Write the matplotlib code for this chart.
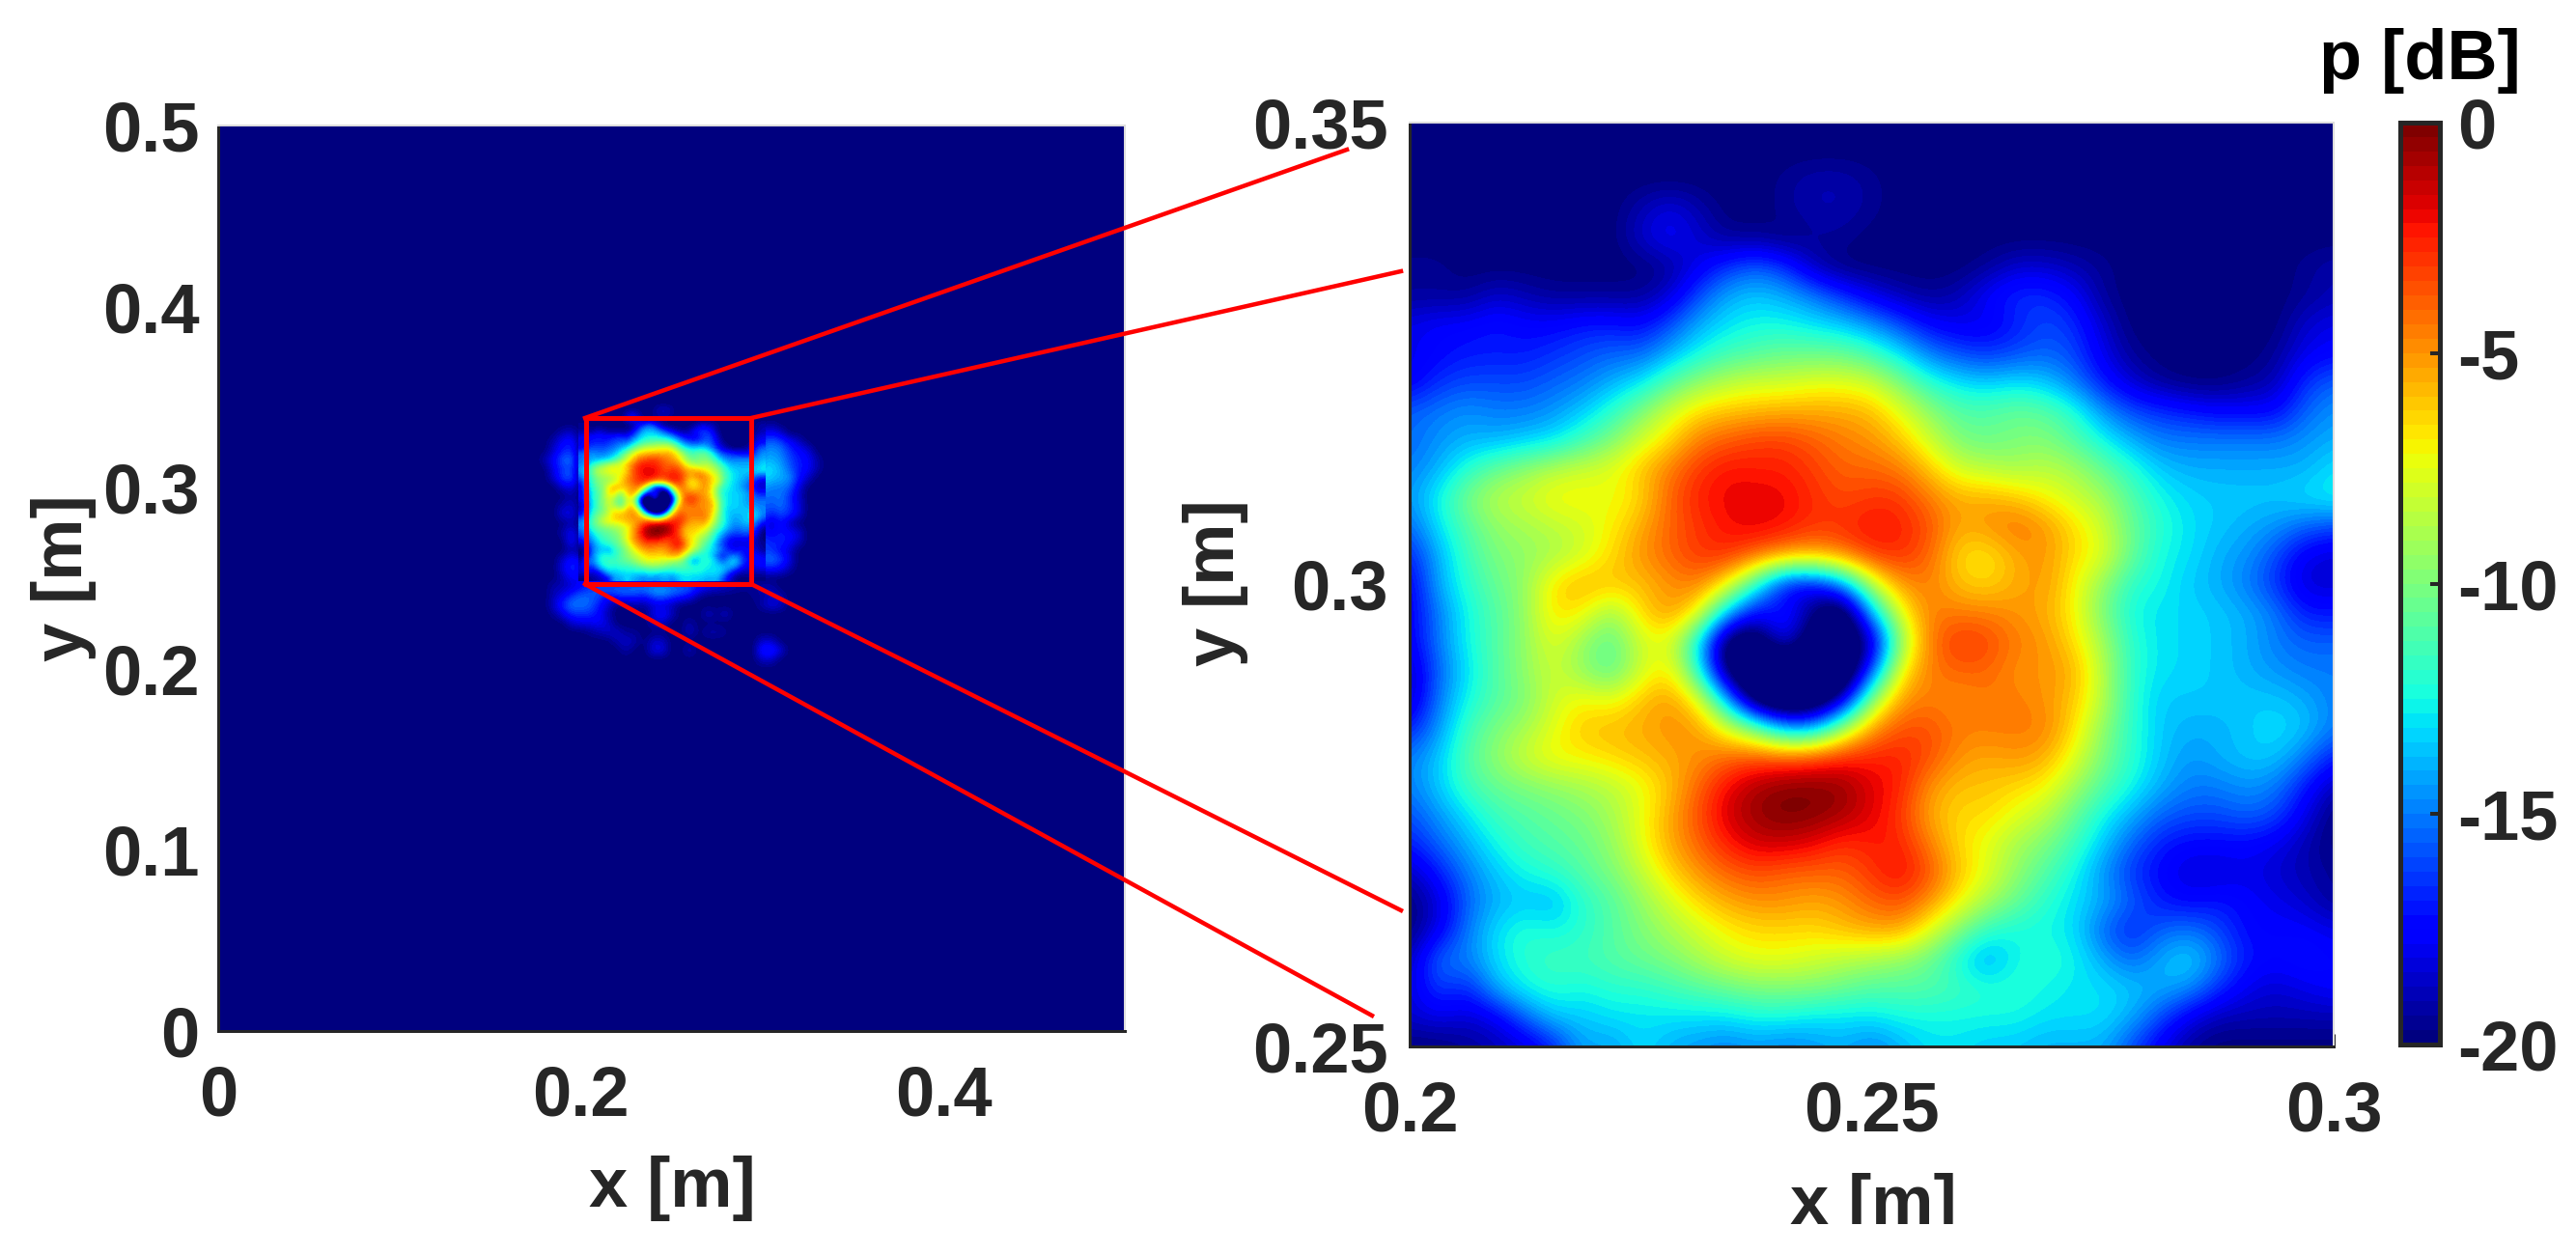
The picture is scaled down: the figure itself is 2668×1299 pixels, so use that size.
import numpy as np
import matplotlib
matplotlib.use("Agg")
import matplotlib.pyplot as plt
from matplotlib.lines import Line2D
from matplotlib.patches import Rectangle
from matplotlib.transforms import Bbox

W, H = 2668, 1299
N = -20

# Sound pressure level [dB] (x 0.2..0.3, y 0.35 at top ..0.25 at bottom)
zoom_db = [
 [N]*33,
 [N]*33,
 [N,N,N,N,N,N,N,N,N,N,N,N,N,-19.5,-19,-19,-19.5,N,N,N,N,N,N,N,N,N,N,N,N,N,N,N,N],
 [N,N,N,N,N,N,N,N,-19,-18,-19,N,N,-19.5,-19,-19,-19.5,N,N,N,N,N,N,N,N,N,N,N,N,N,N,N,N],
 [N,N,N,N,N,N,N,N,-18.5,-17.5,-18.5,-19.5,-19.5,N,-19.5,-19.5,N,N,N,N,N,N,N,N,N,N,N,N,N,N,N,N,N],
 [-19.5,-19.5,N,N,N,N,N,N,N,-19.5,-18,-16.5,-15.5,-16.5,-19,N,N,N,N,N,-19.5,-18.5,-18.5,-19,-19.5,N,N,N,N,N,N,-19.5,-19],
 [-19.5,-19.5,-19.5,-18.5,-19,-19.5,-19.5,-19.5,-19.5,-18.5,-16,-14,-13.5,-14,-15,-16.5,-18,-19,-19.5,-19,-17.5,-16.5,-16.5,-17.5,-19.5,N,N,N,N,N,N,-19.5,-19],
 [-18,-17.5,-17.5,-17,-17.5,-17.5,-17,-17,-17.5,-16,-14,-13,-12.5,-12.5,-13,-13.5,-14.5,-16,-17.5,-18,-18,-17,-16,-16.5,-18.5,N,N,N,N,N,N,-18.5,-18],
 [-18,-17.5,-17,-17,-17,-16.5,-16,-15.5,-15.5,-14,-12.5,-11.5,-11,-10.5,-10.5,-10.5,-11.5,-13,-15,-16,-16.5,-16,-15.5,-16,-18,-19.5,N,N,N,N,-19.5,-18,-17.5],
 [-18,-16.5,-16,-16,-16,-15.5,-15,-14,-13,-11,-9.5,-8.5,-8,-8,-7.5,-7.5,-8,-10,-12,-13,-13.5,-13,-13.5,-15,-17,-18.5,-19.5,N,N,-19.5,-19,-16.5,-15.5],
 [-15.5,-15,-14.5,-15,-15,-14.5,-13.5,-12,-10,-8,-6.5,-6,-5.8,-5.5,-5.5,-5.5,-5.8,-7.5,-9.5,-11,-11,-10.5,-10.8,-12,-14.5,-16,-16.5,-17,-17.5,-17.5,-17.5,-15.5,-14.5],
 [-15.5,-14.5,-14,-14,-13.5,-13,-11.5,-10,-8,-6.5,-4.5,-3.8,-3.2,-3.2,-3.8,-4.5,-5,-6,-8,-10,-10.5,-10,-9.8,-11,-12.5,-14,-15,-15,-15,-15,-15,-14.5,-14],
 [-15,-14,-12,-10.5,-9.5,-8.5,-8,-7.5,-6,-4.5,-3,-2.2,-2.5,-2.5,-3.2,-4,-4,-4.5,-6,-8,-8.5,-9,-8.5,-9,-10.5,-12,-13.5,-14,-14,-14,-14,-14,-13],
 [-14.5,-12.5,-10,-8.5,-8,-7,-7,-7.5,-6.5,-4,-2.5,-2,-1.8,-2,-2.8,-3.5,-3,-3,-4.5,-5.5,-5.5,-6,-7,-8,-9,-11,-12.5,-13.2,-13.5,-13.5,-13.5,-13,-12.5],
 [-15.5,-13,-11,-9.5,-9,-8.5,-8,-7,-5.5,-4,-3,-2.2,-1.8,-2.2,-3,-2.8,-2.2,-2.5,-3.5,-5.5,-5,-4.2,-5,-6.5,-8,-10.5,-12,-13,-13.5,-14,-14.5,-15.5,-16],
 [-17,-14,-11.5,-10,-9.5,-9,-8,-6.5,-5,-4,-3,-2.8,-4,-5,-5.5,-4.5,-3,-2.8,-4,-6.5,-7,-5.5,-5,-6.5,-7.5,-10.5,-12.5,-13,-14,-14.5,-16,-18,-18.5],
 [-18,-14,-12,-10.5,-9.5,-6.5,-5.5,-6,-6,-5,-4.5,-7,-12,-18,-18,-15,-8.5,-5,-4.5,-6,-6.5,-5.5,-5,-7,-9.5,-12,-12.5,-13.5,-14,-15,-16.5,-18.5,-18.5],
 [-18,-15,-12.5,-11,-9.5,-6.5,-7,-9.5,-6.5,-5,-7,-14,-18,-16.5,-20,-23,-14,-7.5,-4.5,-4.5,-4.5,-5,-5.5,-7,-10,-12.5,-13,-13.2,-13.5,-14,-15,-17,-17],
 [-18,-15,-12.5,-11,-9.5,-7.5,-9.5,-11,-8,-7.5,-13,-22,-22,-17,-22,-22,-20,-9.5,-4.5,-2.8,-3.3,-4.5,-5,-6.5,-9,-12,-13,-13.2,-13.5,-14,-15,-15.5,-15.5],
 [-19,-15.5,-13,-11,-9.5,-8,-9.5,-11,-8,-6.5,-12,-21,-24,-24,-24,-24,-16,-7,-4.5,-4,-4,-5,-5,-5.5,-8.5,-12,-13,-13.2,-13.5,-14,-14.5,-15,-15],
 [-19,-15,-12.5,-11,-10,-8,-7,-7.5,-6,-5,-7,-14,-22,-24,-23,-19,-9.5,-5,-4.5,-5,-4.5,-4.5,-5,-6,-8.5,-12,-13.5,-13.5,-13.5,-13.5,-13.5,-14,-15],
 [-17,-14.5,-11.5,-10,-9,-7.5,-6,-5.8,-5.5,-5,-5,-7.5,-10,-14,-14,-9,-5,-3.5,-3.5,-4.5,-4.5,-4.5,-4.5,-6.5,-9.5,-12,-13.5,-14,-14,-13.5,-13,-13.5,-15],
 [-15,-13.5,-11,-9.5,-8,-7,-7,-6.5,-6,-5.5,-5,-4,-3.5,-3.5,-3,-2.5,-2.5,-2.5,-3.5,-5,-5.5,-5,-5.5,-7.5,-10,-12,-13.5,-14.5,-14,-13.5,-13.5,-15,-17],
 [-15,-13.5,-11.5,-10.5,-10,-9.5,-9,-8.5,-7.5,-6,-4,-2,-0.8,-0.2,-0.2,-0.4,-1.8,-2.5,-5,-6,-6,-6.5,-7,-9,-11,-12.5,-14,-15,-15,-14.5,-15,-17,-19],
 [-16,-14.5,-13,-11.5,-11,-10.5,-10,-9,-7.5,-5.5,-3.5,-1.5,-0.5,0,-0.2,-0.8,-1.8,-3,-5.5,-6.5,-6.5,-7.5,-8.5,-10.5,-12.5,-14,-15.5,-16,-16,-15.5,-16,-18,-20],
 [-17,-15.5,-14,-12.5,-11.5,-11,-10.5,-9.5,-7.5,-5.5,-4,-2.5,-1.5,-1.5,-2,-3,-2.5,-2.5,-4.5,-6.5,-7.5,-9,-10,-11.5,-13.5,-15.5,-17,-17.5,-17.5,-17.5,-18,-19,-20],
 [-19,-17,-15,-13.5,-12.5,-12,-11,-10,-8.5,-6.5,-5,-4,-3.5,-4,-4,-4,-3,-2,-3.5,-6,-7.5,-9.5,-11,-12.5,-14.5,-16.5,-17.5,-18.5,-18.5,-18,-18.5,-19,-19.5],
 [-20,-18.5,-15.5,-14,-13.5,-14,-12,-11,-9.5,-8,-6.5,-5.5,-5,-5,-5.5,-5,-4,-3.5,-5,-7,-9,-10.5,-12,-13,-14,-15.5,-17,-17.5,-17,-17.5,-18,-18.5,-19.5],
 [-20,-18,-15,-13,-12,-12.5,-12,-11,-10,-9,-8,-7,-6.5,-6.5,-6.5,-6,-5.5,-5.5,-7.5,-10,-12,-12.5,-12.5,-13,-15.5,-17,-15.5,-15,-16,-17.5,-17.5,-17.5,-18],
 [-19,-15,-15,-13,-12,-11.5,-11.5,-11,-10.5,-10,-9,-8,-7.5,-7.5,-8,-8.5,-9,-9.5,-10.5,-12.5,-14.5,-12.5,-12,-12.5,-14,-15.5,-14,-13,-15,-17,-17.5,-17,-17.5],
 [-18.5,-16,-17,-14,-12.5,-12,-12.5,-12,-12,-11.5,-11,-10.5,-10,-10,-10,-10.5,-11,-11,-11,-11.5,-12,-12,-12.5,-13,-13,-13.5,-14,-14.5,-16.5,-18,-18.5,-18,-17.5],
 [-18.5,-18,-18.5,-18,-15.5,-13.5,-13.5,-13,-13,-13,-13,-13,-12.5,-12.5,-13,-13,-13,-12.5,-12.5,-12.5,-12.5,-12.5,-13,-13,-13,-14,-16,-18,-19,-19,-19,-19,-19],
 [-20,-20,-19.5,-19,-18.5,-17,-14,-14.5,-13,-14,-14.5,-15,-14.5,-15,-14.5,-14,-15,-14,-13,-13,-13.5,-13.5,-14,-14,-14,-16,-18,-19.5,-20,-20,-20,-20,-20],
]

# Weak field around the zoomed region, seen only in the full panel (x 0.165..0.335, y 0.36..0.20)
halo_db = [
 [N]*35, [N]*35, [N]*35, [N]*35, [N]*35,
 [N]*28 + [-19.5] + [N]*6,
 [N,N,N,N,N, -19,-18.5,N,N,N] + [N]*15 + [N,N,-18,-17.5,-18.5] + [N]*5,
 [N,N,N,N,-19, -17.5,-17,N,N,N] + [N]*15 + [N,N,-16,-15.5,-16, -17.5,-18.5,N,N,N],
 [N,N,N,N,-18.5, -17,-16.5,N,N,N] + [N]*15 + [N,N,-15,-14.5,-15, -16.5,-17.5,-18,N,N],
 [N,N,N,-19,-17.5, -15.5,-15,N,N,N] + [N]*15 + [N,N,-14,-14,-14.5, -16,-17,-17.5,-19,N],
 [N,N,N,N,-18, -16.5,-16,N,N,N] + [N]*15 + [N,N,-13,-13,-14, -15.5,-17,-17.5,-19,N],
 [N,N,N,N,-18.5, -16,-15.5,N,N,N] + [N]*15 + [N,N,-13,-13.5,-14, -14.5,-17,-18.5,N,N],
 [N,N,N,N,N, -18.5,-18,N,N,N] + [N]*15 + [N,N,-14,-15,-15, -15.5,-18,N,N,N],
 [N,N,N,N,N, N,-19,N,N,N] + [N]*15 + [N,N,-15,-15.5,-15, -16.5,-18.5,N,N,N],
 [N,N,N,N,N, -19,-18.5,N,N,N] + [N]*15 + [N,N,-15,-16,-15, -16.5,-18,N,N,N],
 [N,N,N,N,N, -18,-18,N,N,N] + [N]*15 + [N,N,-15.5,-17,-16, -16.5,-18,N,N,N],
 [N,N,N,N,N, N,-19,N,N,N] + [N]*15 + [N,N,-16.5,-19,-17, -19,N,N,N,N],
 [N,N,N,N,N, -19,-17.5,N,N,N] + [N]*15 + [N,N,-17,-18,-17, -17.5,-18,N,N,N],
 [N,N,N,N,N, N,-17,N,N,N] + [N]*15 + [N,N,-16,-17,-16.5, -17.5,-18.5,N,N,N],
 [N,N,N,N,N, N,-19,N,N,N] + [N]*15 + [N,N,-16,-16.5,-17.5, -18.5,N,N,N,N],
 [N,N,N,N,N, -18.5,-17,-18,N,N] + [N]*15 + [N,N,-15.5,-15,-16, -18,N,N,N,N],
 [N,N,N,N,N, -18,-16.5,-17.5,N,N] + [N]*15 + [N,N,-17,-17,-17.5, -19,N,N,N,N],
 [N,N,N,N,N, -19,-17.5,-18,-18,N] + [N]*25,
 [N,N,N,N,-19, -19,-18.5,-17.5,-16.5,-15.5, -15,-15,-15,-14.5,-14.5, -14,-14,-14.5,-15,-15, -16.5,-17.5,-18,-18.5,-19, -19.5,-19.5,-19,-19,N] + [N]*5,
 [N,N,N,N,-19, -18,-16.5,-15.5,-15.5,-16, -17.5,-16.5,-16,-16.5,-17, -15.5,-15,-16,-16.5,-17.5, -19.5,N,N,N,N, N,-19.5,-19.5,-18.5,-19] + [N]*5,
 [N,N,N,N,-18.5, -16.5,-15,-15,-15.5,-17, -18.5,N,N,-19,-19.5, -18.5,-18.5,-19,N,N, N,N,N,N,N, N,N,-19,-18,-18.5] + [N]*5,
 [N,N,N,N,-19.5, -18,-16.5,-16.5,-16.5,-17.5, -19,N,N,N,N, -18,-17,-18.5,N,N, N,-18.5,-19.5,-18.5,N] + [N]*10,
 [N,N,N,N,N, N,-18.5,-18,-18,-17.5, -18.5,N,N,N,N, -19,-18.5,N,N,-19] + [N]*15,
 [N,N,N,N,N, N,N,N,-19.5,-19, -18.5,-18.5,-19.5,-19.5,N, N,N,N,N,-18.5, N,-19,-19,-19.5,N] + [N]*10,
 [N,N,N,N,N, N,N,N,N,N, N,-19,-18.5,-19,N, -18.5,-18.5,N,N,N, N,N,N,N,N, N,N,-18.5,-18.5,N] + [N]*5,
 [N,N,N,N,N, N,N,N,N,N, N,N,-19,N,N, -18,-18,N,N,-18.5, N,N,N,N,N, N,N,-16.5,-16.5,-18] + [N]*5,
 [N]*27 + [-18.5,-18.5] + [N]*6,
 [N]*35,
]

background_db = [[N, N], [N, N]]

left_xticks = [0, 0.2, 0.4]
left_xlabels = ["0", "0.2", "0.4"]
left_yticks = [0, 0.1, 0.2, 0.3, 0.4, 0.5]
left_ylabels = ["0", "0.1", "0.2", "0.3", "0.4", "0.5"]
right_xticks = [0.2, 0.25, 0.3]
right_xlabels = ["0.2", "0.25", "0.3"]
right_yticks = [0.25, 0.3, 0.35]
right_ylabels = ["0.25", "0.3", "0.35"]
cbar_ticks = [-20, -15, -10, -5, 0]
cbar_labels = ["-20", "-15", "-10", "-5", "0"]

for i, r in enumerate(zoom_db):
    assert len(r) == 33, ("zoom", i, len(r))
for i, r in enumerate(halo_db):
    assert len(r) == 35, ("halo", i, len(r))

plt.rcParams['font.family'] = ['Liberation Sans', 'DejaVu Sans']
plt.rcParams['font.weight'] = 'bold'
DARK = '#262626'
FS = 52
PX = 72 / 100

fig = plt.figure(figsize=(W / 100, H / 100), dpi=100, facecolor='white')

def axes_px(l, t, r, b):
    return fig.add_axes([l / W, 1 - b / H, (r - l) / W, (b - t) / H])

def fx(x):
    return x / W

def fy(y):
    return 1 - y / H

cmap = plt.get_cmap('jet', 64)
zoom = np.array(zoom_db, dtype=float)
halo = np.array(halo_db, dtype=float)
hz = 0.1 / 32
zoom_ext = [0.2 - hz / 2, 0.3 + hz / 2, 0.25 - hz / 2, 0.35 + hz / 2]
halo_ext = [0.1625, 0.3375, 0.1975, 0.3625]
kw = dict(cmap=cmap, vmin=-20, vmax=0, interpolation='bicubic', aspect='auto', origin='upper', zorder=1)

def style(ax, xt, xl, yt, yl, xpad, ypad):
    ax.set_xticks(xt, xl)
    ax.set_yticks(yt, yl)
    ax.tick_params(direction='in', length=13 * PX, width=3 * PX, colors=DARK, labelsize=FS)
    ax.tick_params(axis='x', pad=xpad)
    ax.tick_params(axis='y', pad=ypad)
    for s in ('left', 'bottom'):
        ax.spines[s].set_color(DARK)
        ax.spines[s].set_linewidth(3 * PX)
    for s in ('top', 'right'):
        ax.spines[s].set_color('#dddddd')
        ax.spines[s].set_linewidth(2 * PX)
    ax.set_axisbelow(True)

axL = axes_px(226, 130, 1165, 1068)
axL.imshow(np.array(background_db, dtype=float), extent=[0, 0.5, 0, 0.5], **kw)
axL.imshow(halo, extent=halo_ext, **kw)
axL.imshow(zoom, extent=zoom_ext, **kw)
axL.set_xlim(0, 0.5)
axL.set_ylim(0, 0.5)
style(axL, left_xticks, left_xlabels, left_yticks, left_ylabels, 25, 14)
axL.add_patch(Rectangle((0.2027, 0.247), 0.0913, 0.0915, fill=False, ec='#ff0000', lw=5 * PX, zorder=5))

axR = axes_px(1460, 127, 2417, 1084)
im = axR.imshow(zoom, extent=zoom_ext, **kw)
axR.set_xlim(0.2, 0.3)
axR.set_ylim(0.25, 0.35)
style(axR, right_xticks, right_xlabels, right_yticks, right_ylabels, 25, 16)

cax = axes_px(2486, 127, 2527, 1082)
cb = fig.colorbar(im, cax=cax)
cb.set_ticks(cbar_ticks, labels=cbar_labels)
cax.tick_params(direction='in', length=10 * PX, width=4 * PX, colors=DARK, labelsize=FS, pad=13)
cb.outline.set_edgecolor(DARK)
cb.outline.set_linewidth(5 * PX)

# connector lines from the box to the zoomed panel
for (x0, y0, x1, y1) in [(606, 433, 1395, 155), (778, 433, 1451, 281),
                         (778, 605, 1451, 943), (606, 605, 1421, 1052)]:
    fig.add_artist(Line2D([fx(x0), fx(x1)], [fy(y0), fy(y1)], color='#ff0000', lw=4.5 * PX,
                          transform=fig.transFigure, zorder=6))

fig.text(fx(696), fy(1250), 'x [m]', ha='center', va='baseline', fontsize=FS, color=DARK)
fig.text(fx(66), fy(599), 'y [m]', ha='center', va='center', rotation=90, fontsize=FS, color=DARK)
fig.text(fx(1259), fy(604), 'y [m]', ha='center', va='center', rotation=90, fontsize=FS, color=DARK)
t = fig.text(fx(1940), fy(1268), 'x [m]', ha='center', va='baseline', fontsize=FS, color=DARK)
t.set_clip_on(True)
t.set_clip_box(Bbox([[0, H - 1268], [W, H]]))
fig.text(fx(2506), fy(82), 'p [dB]', ha='center', va='baseline', fontsize=FS, color='black')

fig.savefig('out.png', dpi=100, facecolor='white')
